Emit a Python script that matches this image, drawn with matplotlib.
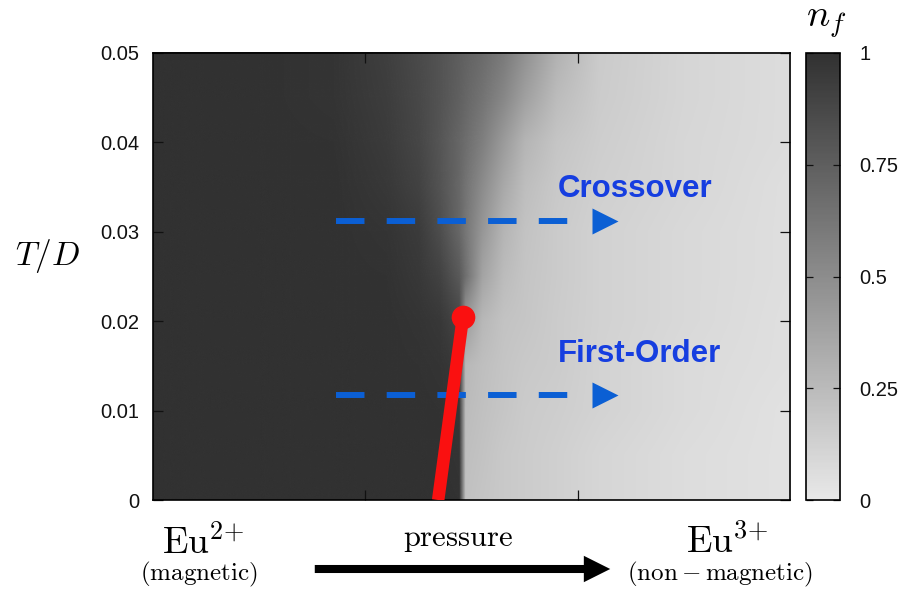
import numpy as np
import matplotlib
matplotlib.use('Agg')
import matplotlib.pyplot as plt
from matplotlib.colors import LinearSegmentedColormap
from matplotlib.image import NonUniformImage
from matplotlib.patches import FancyArrowPatch

plt.rcParams['font.family'] = 'Liberation Sans'
plt.rcParams['mathtext.fontset'] = 'cm'
plt.rcParams['lines.scale_dashes'] = False

# f-electron number n_f on a (pressure, T/D) grid
x_grid = [0.0, 0.5, 0.85, 1.1, 1.25, 1.35, 1.44, 1.47, 1.55, 1.65, 1.75, 1.9, 2.1, 2.5, 3.0]
t_grid = [0.0, 0.005, 0.01, 0.015, 0.02, 0.025, 0.03, 0.035, 0.04, 0.045, 0.05]
nf_grid = [
    [1.0, 1.0, 1.0, 1.0, 1.0, 1.0, 0.99, 0.21, 0.19, 0.17, 0.15, 0.13, 0.10, 0.06, 0.03],
    [1.0, 1.0, 1.0, 1.0, 1.0, 1.0, 0.98, 0.22, 0.20, 0.17, 0.15, 0.13, 0.10, 0.06, 0.03],
    [1.0, 1.0, 1.0, 1.0, 1.0, 0.99, 0.97, 0.24, 0.21, 0.18, 0.16, 0.14, 0.11, 0.07, 0.03],
    [1.0, 1.0, 1.0, 1.0, 0.99, 0.98, 0.95, 0.26, 0.22, 0.19, 0.17, 0.15, 0.11, 0.07, 0.04],
    [1.0, 1.0, 1.0, 1.0, 0.98, 0.96, 0.88, 0.42, 0.26, 0.20, 0.18, 0.15, 0.12, 0.08, 0.04],
    [1.0, 1.0, 1.0, 0.99, 0.96, 0.90, 0.78, 0.66, 0.37, 0.24, 0.19, 0.16, 0.12, 0.08, 0.05],
    [1.0, 1.0, 1.0, 0.98, 0.94, 0.84, 0.70, 0.62, 0.44, 0.28, 0.20, 0.16, 0.12, 0.08, 0.05],
    [1.0, 1.0, 1.0, 0.96, 0.90, 0.81, 0.70, 0.64, 0.50, 0.34, 0.23, 0.17, 0.13, 0.09, 0.05],
    [1.0, 1.0, 0.99, 0.94, 0.88, 0.80, 0.71, 0.67, 0.57, 0.42, 0.28, 0.19, 0.14, 0.09, 0.06],
    [1.0, 1.0, 0.98, 0.93, 0.87, 0.81, 0.74, 0.71, 0.64, 0.53, 0.39, 0.24, 0.15, 0.10, 0.06],
    [1.0, 1.0, 0.98, 0.92, 0.86, 0.81, 0.75, 0.73, 0.68, 0.60, 0.47, 0.29, 0.16, 0.10, 0.06],
]

# first-order line ending in the critical point
fo_x = [1.343, 1.46]
fo_t = [0.0, 0.0205]

# horizontal paths: crossover above the critical point, first-order below
path_t = [0.0312, 0.01175]
path_labels = ['Crossover', 'First-Order']
path_label_t = [0.0348, 0.0163]
path_x0, path_x1, head_x = 0.862, 1.955, 2.129
label_x = 1.905

y_ticks = [0, 0.01, 0.02, 0.03, 0.04, 0.05]
y_ticklabels = ['0', '0.01', '0.02', '0.03', '0.04', '0.05']
cb_ticks = [0, 0.25, 0.5, 0.75, 1]
cb_ticklabels = ['0', '0.25', '0.5', '0.75', '1']

W, H = 899, 591
fig = plt.figure(figsize=(W / 100, H / 100), dpi=100)
ax = fig.add_axes([153 / W, 1 - 500 / H, 637 / W, 447 / H])
cax = fig.add_axes([806 / W, 1 - 500 / H, 34 / W, 447 / H])

cmap = LinearSegmentedColormap.from_list('nf_gray', ['#e8e8e8', '#313131'])
im = NonUniformImage(ax, interpolation='bilinear', cmap=cmap,
                     extent=(0, 3, 0, 0.05))
im.set_data(x_grid, t_grid, np.array(nf_grid))
im.set_clim(0, 1)
ax.add_image(im)

ax.set_xlim(0, 3)
ax.set_ylim(0, 0.05)
ax.set_xticks([1, 2])
ax.set_xticklabels([])
ax.set_yticks(y_ticks)
ax.set_yticklabels(y_ticklabels)
ax.tick_params(direction='in', length=7.5, width=0.9, top=True, right=True,
               labelsize=14.5, pad=10, colors='#111111')
for s in ax.spines.values():
    s.set_linewidth(1.2)

# red first-order line and critical end point
ax.plot(fo_x, fo_t, color='#fa1010', lw=9, solid_capstyle='butt', zorder=4)
ax.plot(fo_x[-1], fo_t[-1], 'o', color='#fa1010', ms=16, zorder=5)

blue = '#0b5fd4'
for t, lab, lt in zip(path_t, path_labels, path_label_t):
    ax.plot([path_x0, path_x1], [t, t], color=blue, lw=4.3,
            dashes=(20.5, 16), solid_capstyle='butt', dash_capstyle='butt', zorder=3)
    ax.plot(head_x, t, '>', color=blue, ms=18.5, mec='none', zorder=3)
    ax.text(label_x, lt, lab, color='#163ee0', fontsize=22.5, fontweight='bold',
            ha='left', va='center', zorder=3)

cb = fig.colorbar(im, cax=cax)
cb.set_ticks(cb_ticks)
cb.set_ticklabels(cb_ticklabels)
cb.outline.set_linewidth(1.2)
cax.tick_params(direction='in', length=5, width=0.9, left=True, right=True,
                labelsize=14.5, pad=14, colors='#111111')

fig.text(47 / W, 1 - 265 / H, r'$T/D$', fontsize=24, ha='center', va='baseline')
fig.text(826 / W, 1 - 26 / H, r'$n_f$', fontsize=28, ha='center', va='baseline')

# valence states along the pressure axis
fig.text(203 / W, 1 - 553 / H, r'$\mathrm{Eu}^{2{+}}$', fontsize=27, ha='center', va='baseline')
fig.text(199 / W, 1 - 574 / H, r'$\mathrm{(magnetic)}$', fontsize=18, ha='center', va='center')
fig.text(727 / W, 1 - 553 / H, r'$\mathrm{Eu}^{3{+}}$', fontsize=27, ha='center', va='baseline')
fig.text(720 / W, 1 - 574 / H, r'$\mathrm{(non-magnetic)}$', fontsize=18, ha='center', va='center')
fig.text(458 / W, 1 - 546 / H, r'$\mathrm{pressure}$', fontsize=22, ha='center', va='baseline')

arrow = FancyArrowPatch((312 / W, 1 - 569 / H), (613 / W, 1 - 569 / H),
                        transform=fig.transFigure,
                        arrowstyle='simple,head_length=1.9,head_width=1.9,tail_width=0.58',
                        mutation_scale=10, color='black', lw=0)
fig.add_artist(arrow)

fig.savefig('out.png', dpi=100)
